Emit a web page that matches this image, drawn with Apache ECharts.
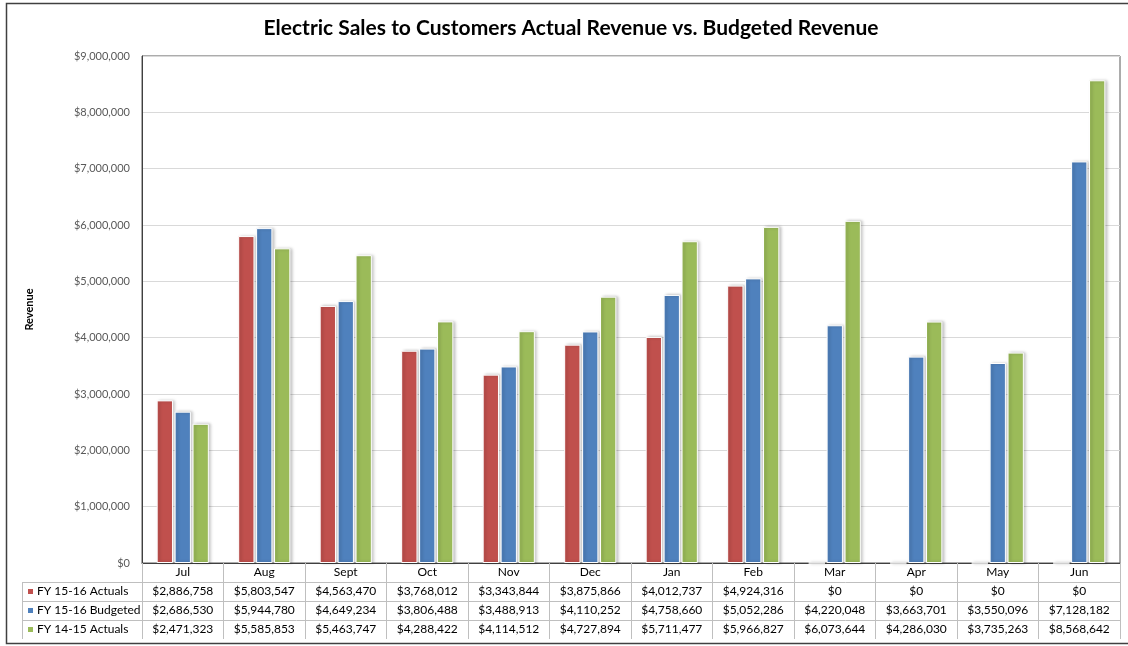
<!DOCTYPE html>
<html>
<head>
<meta charset="utf-8">
<script src="https://cdn.jsdelivr.net/npm/echarts@6/dist/echarts.min.js"></script>
<style>
html,body{margin:0;padding:0;background:#fff;}
#c{width:1128px;height:646px;}
</style>
</head>
<body>
<div id="c"></div>
<script>
const months = ['Jul','Aug','Sept','Oct','Nov','Dec','Jan','Feb','Mar','Apr','May','Jun'];
const fy1516Actuals = [2886758,5803547,4563470,3768012,3343844,3875866,4012737,4924316,0,0,0,0];
const fy1516Budgeted = [2686530,5944780,4649234,3806488,3488913,4110252,4758660,5052286,4220048,3663701,3550096,7128182];
const fy1415Actuals = [2471323,5585853,5463747,4288422,4114512,4727894,5711477,5966827,6073644,4286030,3735263,8568642];
const seriesNames = ['FY 15-16 Actuals','FY 15-16 Budgeted','FY 14-15 Actuals'];
const seriesColors = ['#c0504d','#4f81bd','#9bbb59'];
const yTicks = {min:0, max:9000000, interval:1000000};

const fmt = v => '$' + Math.round(v).toLocaleString('en-US');
const FONT = 'Lato';

const chart = echarts.init(document.getElementById('c'), null, {renderer:'canvas'});
const allData = [fy1516Actuals, fy1516Budgeted, fy1415Actuals];

const GL = 142, GR = 8, GT = 56, GB = 83;
const rowH = 19;
const axisY = 646 - GB;

const graphics = [];
// outer border
graphics.push({type:'rect', shape:{x:6.5,y:3.5,width:1130,height:640}, style:{fill:null, stroke:'#404040', lineWidth:1.5}, silent:true, z:0});
// title
graphics.push({type:'text', left:null, x:571, y:28, style:{text:'Electric Sales to Customers Actual Revenue vs. Budgeted Revenue', fontFamily:FONT, fontWeight:'bold', fontSize:21, fill:'#000', align:'center', verticalAlign:'middle'}, silent:true});
// table horizontal lines
for (let i=1;i<=3;i++){
  const y = axisY + rowH*i + 0.5;
  graphics.push({type:'line', shape:{x1:22, y1:y, x2:1120, y2:y}, style:{stroke:'#bfbfbf', lineWidth:1}, silent:true});
}
graphics.push({type:'line', shape:{x1:22.5, y1:axisY+rowH, x2:22.5, y2:axisY+rowH*4}, style:{stroke:'#bfbfbf', lineWidth:1}, silent:true});

const option = {
  animation:false,
  backgroundColor:'#fff',
  legend:{
    orient:'vertical', left:26, top:axisY+rowH,
    data:seriesNames, icon:'rect', itemWidth:7, itemHeight:7, itemGap:0,
    textStyle:{fontFamily:FONT, fontSize:12, color:'#000', lineHeight:rowH, padding:[0,0,0,-2]},
    padding:0
  },
  grid:{left:GL, right:GR, top:GT, bottom:GB, show:true, borderColor:'#595959', borderWidth:1, containLabel:false},
  xAxis:{
    type:'category', data:months,
    axisLine:{lineStyle:{color:'#404040', width:1}},
    axisTick:{show:true, interval:0, length:rowH*4, lineStyle:{color:'#bfbfbf'}},
    axisLabel:{
      interval:0, margin:0,
      formatter:(v, idx)=>{
        return '{m|'+v+'}\n' + allData.map(d=>'{v|'+fmt(d[idx])+'}').join('\n');
      },
      rich:{
        m:{fontFamily:FONT, fontSize:12, color:'#000', lineHeight:rowH, height:rowH},
        v:{fontFamily:FONT, fontSize:12, color:'#000', lineHeight:rowH, height:rowH}
      }
    }
  },
  yAxis:{
    type:'value', min:yTicks.min, max:yTicks.max, interval:yTicks.interval,
    name:'Revenue', nameLocation:'middle', nameGap:107, nameRotate:90,
    nameTextStyle:{fontFamily:FONT, fontWeight:'bold', fontSize:11, color:'#000'},
    axisLine:{show:true, lineStyle:{color:'#404040'}},
    axisTick:{show:false},
    axisLabel:{fontFamily:FONT, fontSize:11, color:'#595959', margin:12, formatter:v=>fmt(v)},
    splitLine:{lineStyle:{color:'#d9d9d9'}}
  },
  series: allData.map((d,i)=>({
    name:seriesNames[i], type:'bar', data:d,
    barCategoryGap:'36%', barGap:'10%',
    itemStyle:{color:seriesColors[i], borderColor:'#ffffff', borderWidth:1,
      shadowColor:'rgba(0,0,0,0.25)', shadowBlur:3, shadowOffsetX:2, shadowOffsetY:0}
  })),
  graphic:graphics
};
chart.setOption(option);
</script>
</body>
</html>
